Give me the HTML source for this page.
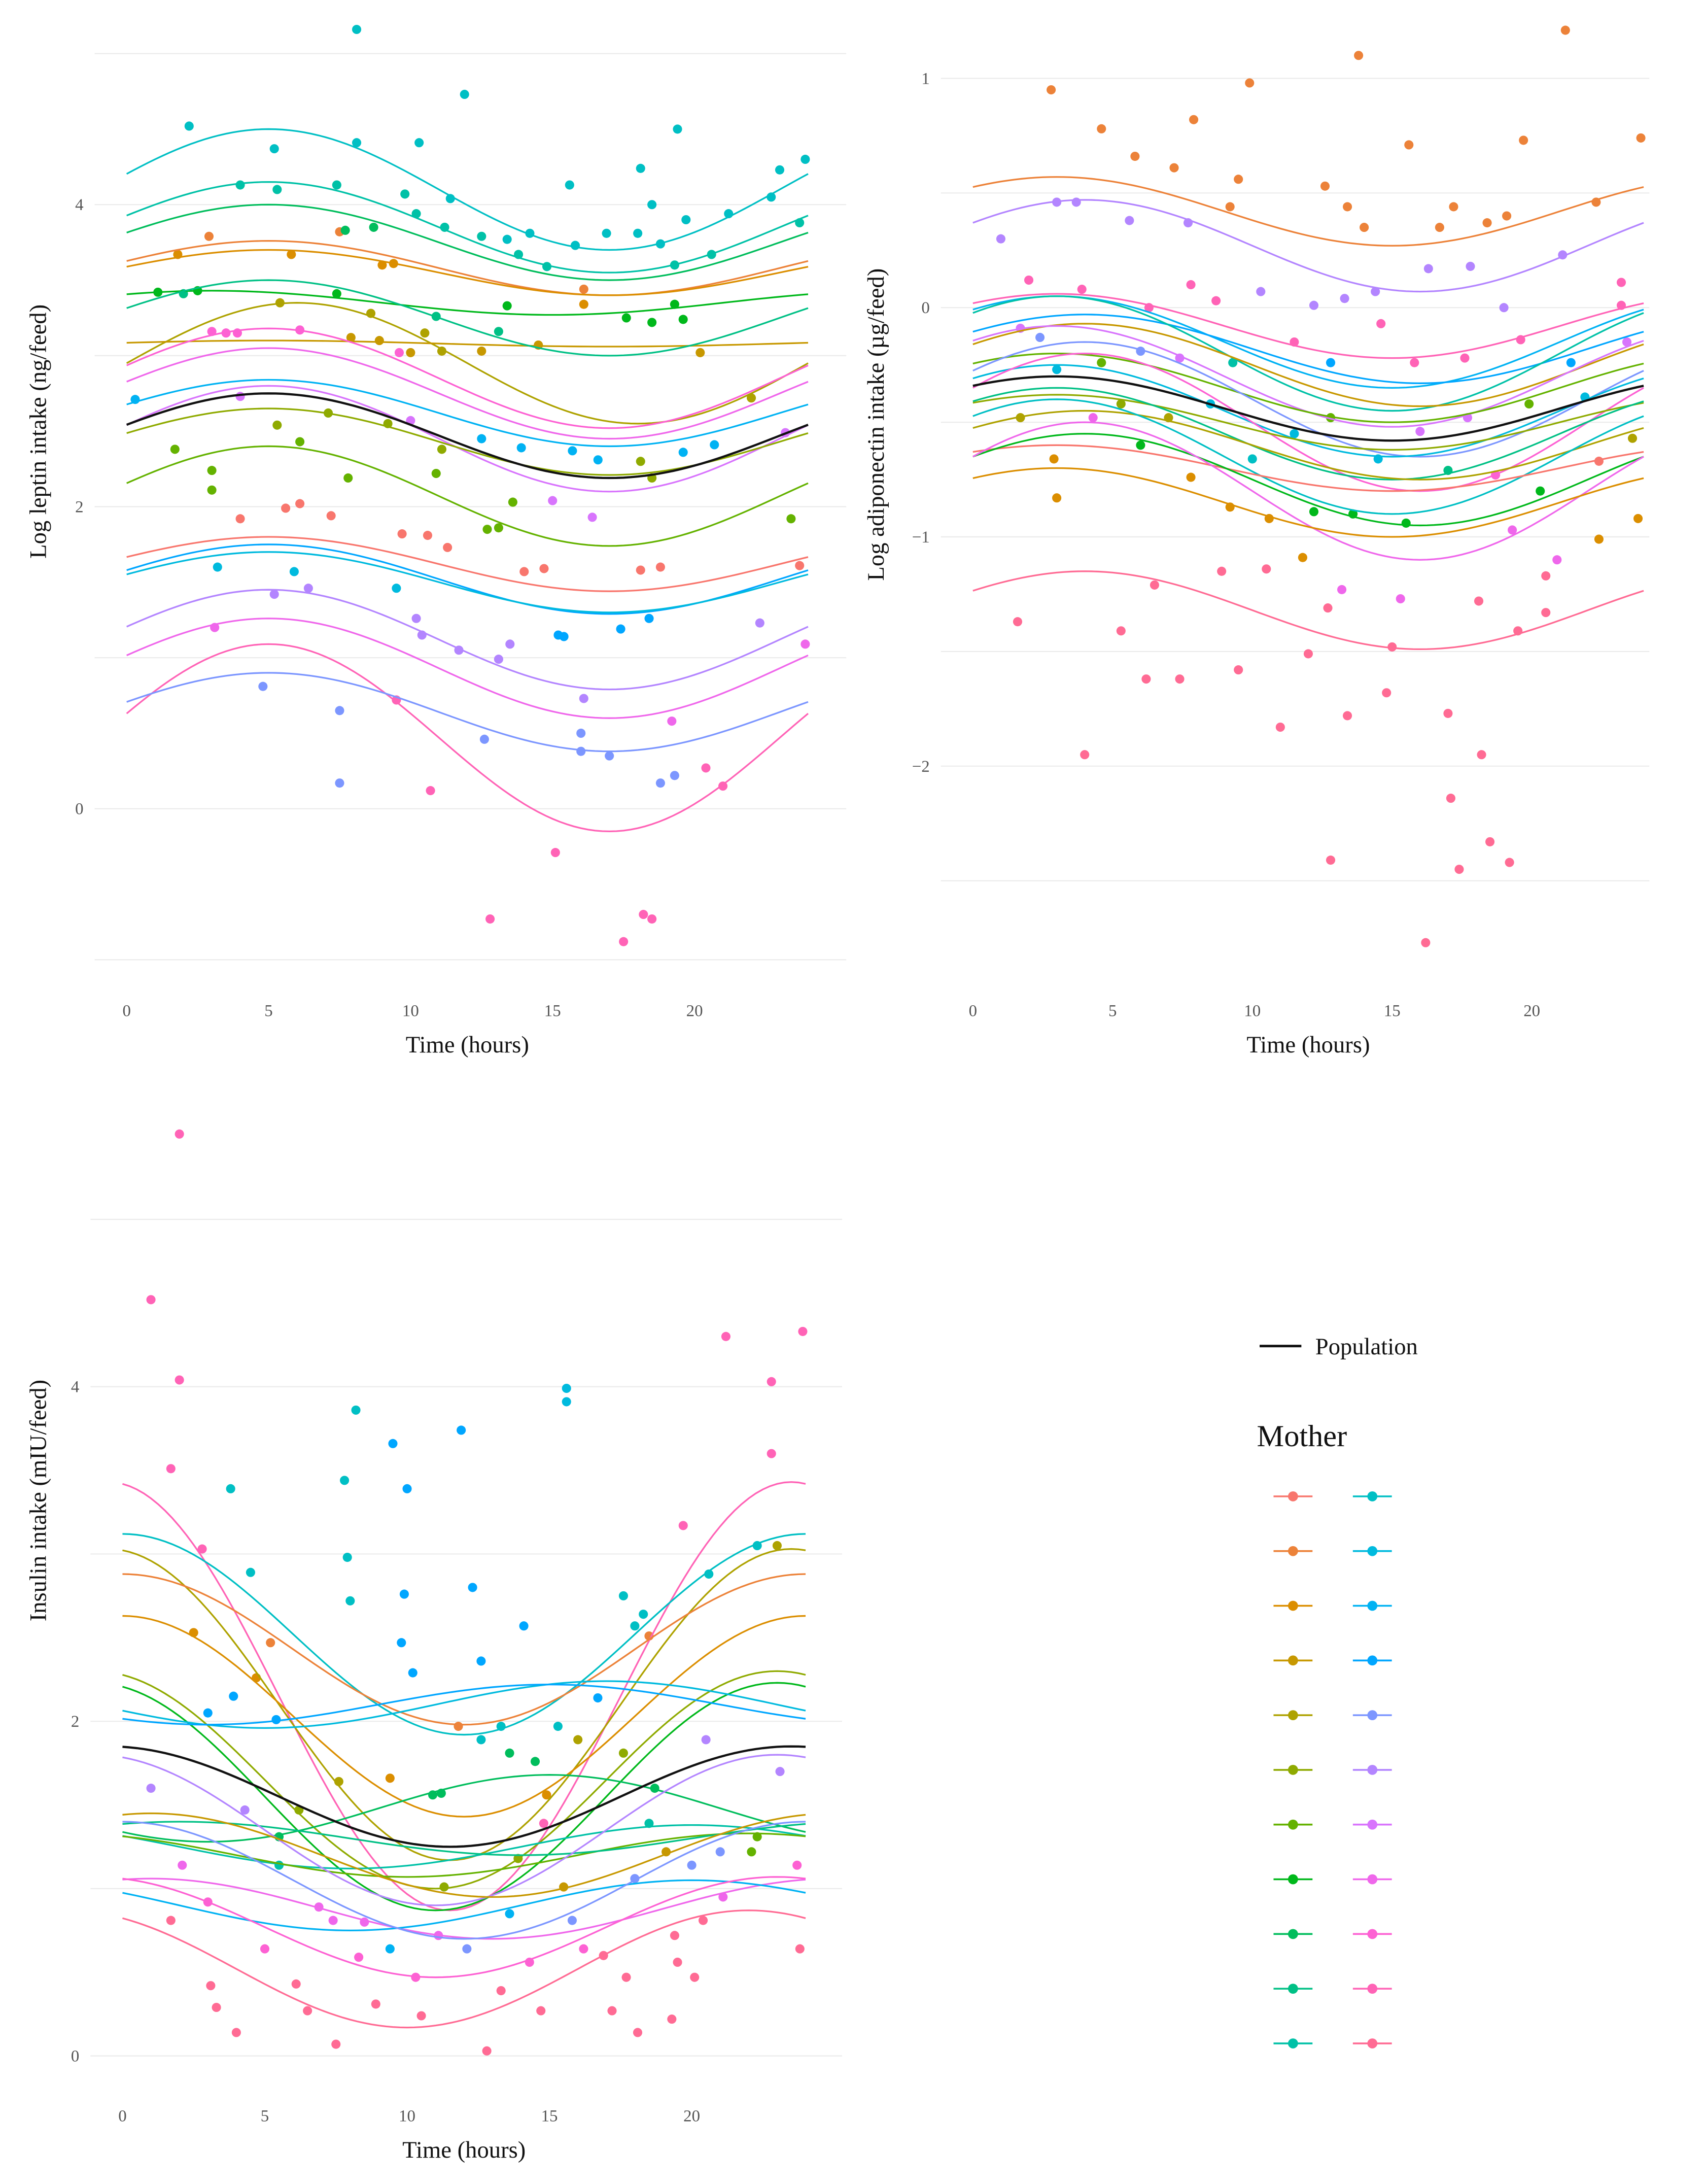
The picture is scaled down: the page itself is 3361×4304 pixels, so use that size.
<!DOCTYPE html>
<html><head><meta charset="utf-8"><style>
html,body{margin:0;padding:0;background:#fff;}
svg{display:block;}
text{font-family:"Liberation Serif",serif;}
</style></head><body>
<svg id="fig" width="3361" height="4304" viewBox="0 0 1225 1569" preserveAspectRatio="none" xmlns="http://www.w3.org/2000/svg">
<g id="p1"></g>
<g id="p2"></g>
<g id="p3"></g>
<g id="legend"></g>
</svg>
<script>
// ---- data ----
const xTicks=[0,5,10,15,20];
// curves: mean, amplitude, peak hour, colour index
const c1Mean=[4.1,3.85,3.75,3.58,3.55,3.35,2.95,3.08,3.25,2.85,2.75,2.45,2.62,2.43,2.07,1.62,1.52,1.5,1.12,0.93,0.47,0.64];
const c1Amp=[0.4,0.3,0.25,0.18,0.15,0.08,0.4,0.02,0.25,0.33,0.3,0.35,0.22,0.22,0.33,0.18,0.23,0.2,0.33,0.33,0.62,0.26];
const c1Peak=[5,5,5,5,5,3,6,5,5,5,5,5,5,5,5,5,5,5,5,5,5,5];
const c1Col=[11,10,8,1,2,7,4,3,9,19,18,17,13,5,6,0,14,12,16,18,20,15];
const pop1=[2.47,0.28,5];
const y1Ticks=[0,2,4];const y1Grid=[-1,0,1,2,3,4,5];

const c2Mean=[0.42,0.27,-0.08,-0.15,-0.18,-0.2,-0.25,-0.3,-0.35,-0.4,-0.45,-0.5,-0.5,-0.55,-0.6,-0.65,-0.7,-0.75,-0.8,-0.85,-1.32];
const c2Amp=[0.15,0.2,0.14,0.2,0.15,0.25,0.18,0.22,0.15,0.25,0.2,0.3,0.12,0.2,0.15,0.25,0.1,0.2,0.3,0.15,0.17];
const c2Peak=[3,4,3,3,4,3,4,3,3,4,3,4,3,3,4,3,3,4,4,3,4];
const c2Col=[1,16,20,13,14,10,3,17,6,15,12,19,5,9,4,11,0,7,18,2,21];
const pop2=[-0.44,0.14,3];
const y2Ticks=[-2,-1,0,1];const y2Grid=[-2.5,-2,-1.5,-1,-0.5,0,0.5,1];

const c3Mean=[2.15,2.52,2.1,2.43,2.03,1.65,1.55,2.1,2.1,1.48,1.25,1.2,1.3,0.88,1.35,0.9,0.52,0.77,1.05,1.2];
const c3Amp=[1.28,0.6,0.93,0.45,0.6,0.65,0.68,0.14,0.12,0.2,0.13,0.13,0.1,0.18,0.45,0.15,0.35,0.3,0.35,0.25];
const c3Peak=[23.5,0,23.5,0,0,23,23,17,15,15,20,22,2,1,23,20,22,23,0,1];
const c3Col=[20,11,4,1,2,5,7,12,14,8,10,6,9,18,16,13,21,19,15,3];
const pop3=[1.55,0.3,23.5];
const y3Ticks=[0,2,4];const y3Grid=[0,1,2,3,4,5];

const p1=[[8.1,5.16],[11.9,4.73],[2.2,4.52],[19.4,4.5],[10.3,4.41],[8.1,4.41],[5.2,4.37],[12.8,-0.73],[15.1,-0.29],[17.5,-0.88],[18.2,-0.7],[18.5,-0.73],[7.5,0.17],[10.7,0.12],[21,0.15],[18.8,0.17],[19.3,0.22],[20.4,0.27],[4.8,0.81],[9.5,0.72],[7.5,0.65],[16.1,0.73],[16,0.5],[16,0.38],[17,0.35],[19.2,0.58],[12.6,0.46],[13.5,1.09],[13.1,0.99],[11.7,1.05],[15.2,1.15],[17.4,1.19],[18.4,1.26],[22.3,1.23],[23.9,1.09],[3.2,1.6],[3.1,1.2],[5.9,1.57],[6.4,1.46],[5.2,1.42],[9.5,1.46],[10.2,1.26],[10.4,1.15],[11.3,1.73],[14.7,1.59],[14,1.57],[18.1,1.58],[18.8,1.6],[23.7,1.61],[3,2.11],[4,1.92],[5.6,1.99],[6.1,2.02],[7.2,1.94],[9.7,1.82],[10.6,1.81],[12.7,1.85],[13.1,1.86],[13.6,2.03],[15,2.04],[15.4,1.14],[16.4,1.93],[23.4,1.92],[0.3,2.71],[1.7,2.38],[3,2.24],[4,2.73],[5.3,2.54],[6.1,2.43],[7.1,2.62],[7.8,2.19],[9.2,2.55],[10,2.57],[10.9,2.22],[11.1,2.38],[12.5,2.45],[13.9,2.39],[15.7,2.37],[16.6,2.31],[18.1,2.3],[18.5,2.19],[19.6,2.36],[20.7,2.41],[22,2.72],[23.2,2.49],[1.1,3.42],[2,3.41],[2.5,3.43],[3,3.16],[3.5,3.15],[3.9,3.15],[5.4,3.35],[6.1,3.17],[7.4,3.41],[7.9,3.12],[8.6,3.28],[8.9,3.1],[9.6,3.02],[10,3.02],[10.5,3.15],[10.9,3.26],[11.1,3.03],[12.5,3.03],[13.1,3.16],[13.4,3.33],[14.5,3.07],[16.1,3.34],[17.6,3.25],[18.5,3.22],[19.3,3.34],[19.6,3.24],[20.2,3.02],[1.8,3.67],[2.9,3.79],[4,4.13],[5.3,4.1],[5.8,3.67],[7.5,3.82],[7.7,3.83],[7.4,4.13],[8.7,3.85],[9,3.6],[9.4,3.61],[9.8,4.07],[10.2,3.94],[11.2,3.85],[11.4,4.04],[12.5,3.79],[13.4,3.77],[13.8,3.67],[14.2,3.81],[14.8,3.59],[15.6,4.13],[15.8,3.73],[16.1,3.44],[16.9,3.81],[18,3.81],[18.1,4.24],[18.5,4],[18.8,3.74],[19.3,3.6],[19.7,3.9],[20.6,3.67],[21.2,3.94],[22.7,4.05],[23,4.23],[23.9,4.3],[23.7,3.88]];
const p2=[[21.2,1.21],[23.9,0.74],[13.8,1.1],[2.8,0.95],[9.9,0.98],[15.6,0.71],[19.7,0.73],[4.6,0.78],[7.9,0.82],[5.8,0.66],[7.2,0.61],[9.5,0.56],[12.6,0.53],[1,0.3],[3,0.46],[3.7,0.46],[13.4,0.44],[17.2,0.44],[22.3,0.46],[9.2,0.44],[5.6,0.38],[7.7,0.37],[14,0.35],[16.7,0.35],[18.4,0.37],[19.1,0.4],[2,0.12],[3.9,0.08],[6.3,0],[7.8,0.1],[8.7,0.03],[10.3,0.07],[12.2,0.01],[13.3,0.04],[14.4,0.07],[16.3,0.17],[17.8,0.18],[19,0],[21.1,0.23],[23.2,0.11],[23.2,0.01],[1.7,-0.09],[2.4,-0.13],[3,-0.27],[4.6,-0.24],[6,-0.19],[7.4,-0.22],[9.3,-0.24],[11.5,-0.15],[12.8,-0.24],[14.6,-0.07],[15.8,-0.24],[17.6,-0.22],[19.6,-0.14],[21.4,-0.24],[23.4,-0.15],[1.6,-1.37],[3,-0.83],[4,-1.95],[5.3,-1.41],[6.2,-1.62],[6.5,-1.21],[7.4,-1.62],[8.9,-1.15],[9.5,-1.58],[11,-1.83],[12,-1.51],[12.8,-2.41],[13.4,-1.78],[14.8,-1.68],[16.2,-2.77],[17.1,-2.14],[17.4,-2.45],[18.5,-2.33],[19.2,-2.42],[18.2,-1.95],[17,-1.77],[15,-1.48],[12.7,-1.31],[19.5,-1.41],[20.5,-1.33],[20.9,-1.1],[22.4,-1.01],[19.3,-0.97],[23.8,-0.92],[22.4,-0.67],[23.6,-0.57],[20.3,-0.8],[18.7,-0.73],[17,-0.71],[15.5,-0.94],[13.6,-0.9],[12.2,-0.89],[10.6,-0.92],[9.2,-0.87],[7.8,-0.74],[6,-0.6],[4.3,-0.48],[2.9,-0.66],[1.7,-0.48],[10,-0.66],[11.5,-0.55],[12.8,-0.48],[14.5,-0.66],[16,-0.54],[17.7,-0.48],[19.9,-0.42],[21.9,-0.39],[8.5,-0.42],[7,-0.48],[5.3,-0.42],[18.1,-1.28],[20.5,-1.17],[15.3,-1.27],[13.2,-1.23],[11.8,-1.09],[10.5,-1.14]];
const p3=[[2,5.51],[1,4.52],[2,4.04],[1.7,3.51],[3.8,3.39],[2.8,3.03],[2.5,2.53],[3.9,2.15],[4.7,2.26],[3,2.05],[4.5,2.89],[5.2,2.47],[5.4,2.01],[8.2,3.86],[7.8,3.44],[7.9,2.98],[9.5,3.66],[10,3.39],[11.9,3.74],[9.9,2.76],[9.8,2.47],[10.2,2.29],[8,2.72],[12.3,2.8],[12.6,2.36],[14.1,2.57],[15.6,3.99],[15.6,3.91],[19.7,3.17],[21.2,4.3],[22.8,3.6],[23.9,4.33],[22.8,4.03],[20.6,2.88],[22.3,3.05],[23,3.05],[17.6,2.75],[18.3,2.64],[18,2.57],[18.5,2.51],[20.5,1.89],[23.1,1.7],[1,1.6],[2.1,1.14],[1.7,0.81],[3,0.92],[3.1,0.42],[3.3,0.29],[4,0.14],[5,0.64],[5.5,1.14],[6.2,1.47],[6.9,0.89],[6.1,0.43],[6.5,0.27],[7.5,0.07],[7.4,0.81],[8.3,0.59],[8.5,0.8],[8.9,0.31],[9.4,0.64],[10.3,0.47],[10.5,0.24],[11.1,0.72],[11.3,1.01],[10.9,1.56],[11.2,1.57],[12.1,0.64],[12.8,0.03],[13.3,0.39],[13.6,0.85],[13.9,1.18],[13.6,1.81],[14.3,0.56],[14.7,0.27],[14.8,1.39],[14.9,1.56],[15.5,1.01],[15.8,0.81],[16,1.89],[16.2,0.64],[16.9,0.6],[17.2,0.27],[17.6,1.81],[17.7,0.47],[18,1.06],[18.1,0.14],[18.5,1.39],[18.7,1.6],[19.1,1.22],[19.3,0.22],[19.4,0.72],[19.5,0.56],[20,1.14],[20.1,0.47],[20.4,0.81],[21,1.22],[21.1,0.95],[22.1,1.22],[22.3,1.31],[23.7,1.14],[23.8,0.64],[12.6,1.89],[13.3,1.97],[14.5,1.76],[15.3,1.97],[16.7,2.14],[7.6,1.64],[9.4,1.66],[11.8,1.97],[5.5,1.31],[4.3,1.47]];

// ---- helpers ----
const NS="http://www.w3.org/2000/svg";
function hcl(h){const L=65,C=100,hr=h*Math.PI/180,u=C*Math.cos(hr),v=C*Math.sin(hr);
const Xn=95.047,Yn=100,Zn=108.883,d=Xn+15*Yn+3*Zn,un=4*Xn/d,vn=9*Yn/d;
const Y=Yn*Math.pow((L+16)/116,3),up=u/(13*L)+un,vp=v/(13*L)+vn;
const X=9*Y*up/(4*vp),Z=(9*Y-15*vp*Y-vp*X)/(3*vp);
const x=X/100,y=Y/100,z=Z/100;
let r=3.2406*x-1.5372*y-0.4986*z,g=-0.9689*x+1.8758*y+0.0415*z,b=0.0557*x-0.2040*y+1.0570*z;
const gm=c=>{c=c<=0.0031308?12.92*c:1.055*Math.pow(c,1/2.4)-0.055;return Math.round(Math.max(0,Math.min(1,c))*255);};
return `rgb(${gm(r)},${gm(g)},${gm(b)})`;}
const COLS=[];for(let i=0;i<22;i++)COLS.push(hcl(15+i*360/22));
function mk(tag,attrs,parent){const e=document.createElementNS(NS,tag);for(const k in attrs)e.setAttribute(k,attrs[k]);parent.appendChild(e);return e;}
function f(m,a,p,t){return m+a*Math.cos(2*Math.PI*(t-p)/24);}

function panel(g,cfg){
  const X=t=>cfg.x0+cfg.xs*t, Y=v=>cfg.y0-cfg.ys*v;
  cfg.grid.forEach(v=>{const l=mk('line',{x1:cfg.left,x2:cfg.right,y1:Y(v),y2:Y(v),stroke:'#ebebeb','stroke-width':0.8},g);
    
    });
  cfg.yt.forEach(v=>{const t=mk('text',{x:cfg.left-8,y:Y(v)+4,'text-anchor':'end','font-size':12,fill:'#555'},g);t.textContent=v<0?'\u2212'+(-v):String(v);
    
    });
  xTicks.forEach(v=>{const t=mk('text',{x:X(v),y:cfg.xty,'text-anchor':'middle','font-size':12,fill:'#555'},g);t.textContent=v;
    
    });
  const xt=mk('text',{x:X(12),y:cfg.xty+26,'text-anchor':'middle','font-size':17,fill:'#111'},g);xt.textContent='Time (hours)';
  
  
  const yt=mk('text',{x:0,y:0,'text-anchor':'middle','font-size':17,fill:'#111',transform:`translate(${cfg.ytx},${cfg.yty}) rotate(-90)`},g);yt.textContent=cfg.ytitle;
  
  
  const path=(m,a,p,col,w)=>{let d='';for(let i=0;i<=96;i++){const t=i/4;d+=(i?'L':'M')+X(t).toFixed(2)+','+Y(f(m,a,p,t)).toFixed(2);}
    return mk('path',{d:d,fill:'none',stroke:col,'stroke-width':w},g);};
  cfg.pts.forEach(pt=>{let best=0,bd=1e9;for(let i=0;i<cfg.m.length;i++){const dd=Math.abs(f(cfg.m[i],cfg.a[i],cfg.p[i],pt[0])-pt[1]);if(dd<bd){bd=dd;best=i;}}
    const c=mk('circle',{cx:X(pt[0]),cy:Y(pt[1]),r:3.3,fill:COLS[cfg.c[best]]},g);
    
    });
  for(let i=0;i<cfg.m.length;i++){const pth=path(cfg.m[i],cfg.a[i],cfg.p[i],COLS[cfg.c[i]],1.2);
    
    }
  const pp=path(cfg.pop[0],cfg.pop[1],cfg.pop[2],'#111',1.6);
  
  
}
panel(document.getElementById('p1'),{x0:91,xs:20.4,y0:581,ys:108.5,left:68,right:608,grid:y1Grid,yt:y1Ticks,xty:730,ytx:33,yty:310,ytitle:'Log leptin intake (ng/feed)',m:c1Mean,a:c1Amp,p:c1Peak,c:c1Col,pop:pop1,pts:p1});
panel(document.getElementById('p2'),{x0:699,xs:20.08,y0:221,ys:164.7,left:676,right:1185,grid:y2Grid,yt:y2Ticks,xty:730,ytx:635,yty:305,ytitle:'Log adiponectin intake (\u00b5g/feed)',m:c2Mean,a:c2Amp,p:c2Peak,c:c2Col,pop:pop2,pts:p2});
panel(document.getElementById('p3'),{x0:88,xs:20.45,y0:1477,ys:120.2,left:65,right:605,grid:y3Grid,yt:y3Ticks,xty:1524,ytx:33,yty:1078,ytitle:'Insulin intake (mIU/feed)',m:c3Mean,a:c3Amp,p:c3Peak,c:c3Col,pop:pop3,pts:p3});

// legend
const lg=document.getElementById('legend');
const pl=mk('line',{x1:905,x2:935,y1:967,y2:967,stroke:'#111','stroke-width':1.8},lg);


const ptx=mk('text',{x:945,y:973,'font-size':17,fill:'#111'},lg);ptx.textContent='Population';


const mt=mk('text',{x:903,y:1039,'font-size':22,fill:'#111'},lg);mt.textContent='Mother';


for(let i=0;i<22;i++){const col=Math.floor(i/11),row=i%11;const x=915+col*57,y=1075+row*39.3;
  const ge=mk('g',{},lg);
  
  
  mk('line',{x1:x,x2:x+28,y1:y,y2:y,stroke:COLS[i],'stroke-width':1.3},ge);
  mk('circle',{cx:x+14,cy:y,r:3.6,fill:COLS[i]},ge);}
</script>
</body></html>
